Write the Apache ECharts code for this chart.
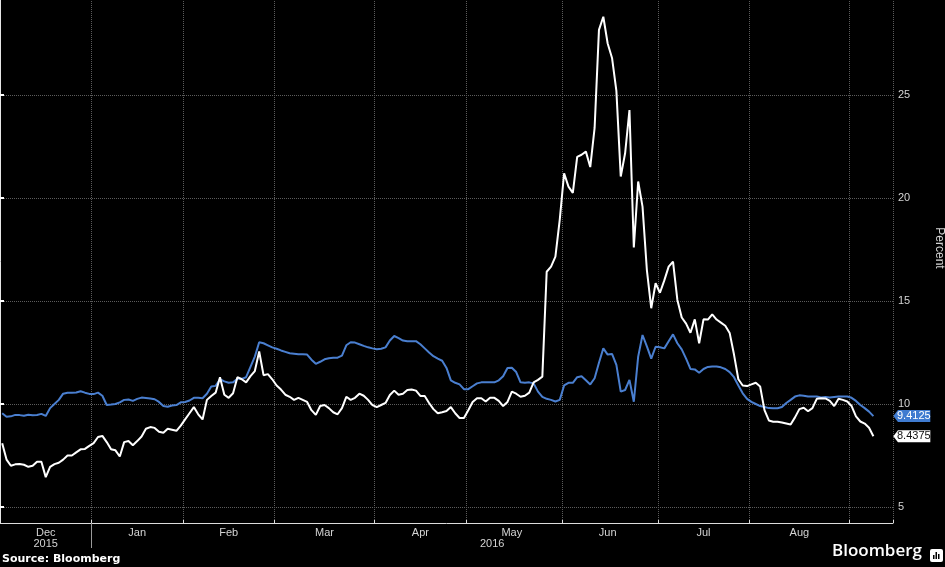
<!DOCTYPE html>
<html>
<head>
<meta charset="utf-8">
<script src="https://cdn.jsdelivr.net/npm/echarts@6/dist/echarts.min.js"></script>
<style>
html, body { margin: 0; padding: 0; background: #000; }
#chart { width: 945px; height: 567px; }
</style>
</head>
<body>
<div id="chart"></div>
<script>
// trading days shown on the axis (weekdays only)
var firstDay = '2015-12-03';
var lastDay = '2016-09-14';
var monthNames = ['Jan', 'Feb', 'Mar', 'Apr', 'May', 'Jun', 'Jul', 'Aug', 'Sep', 'Oct', 'Nov', 'Dec'];
var yTicks = [5, 10, 15, 20, 25];

// blue series, one value per trading day from Dec 3 2015
var blueValues = [
    9.55, 9.38, 9.4, 9.47, 9.46, 9.43, 9.48, 9.45, 9.47, 9.52,
    9.42, 9.8, 10.0, 10.2, 10.5, 10.55, 10.55, 10.56, 10.62, 10.55,
    10.49, 10.48, 10.55, 10.4, 9.95, 9.97, 10.0, 10.08, 10.2, 10.22,
    10.15, 10.25, 10.31, 10.29, 10.27, 10.23, 10.1, 9.9, 9.87, 9.93,
    9.95, 10.08, 10.1, 10.17, 10.3, 10.3, 10.28, 10.5, 10.85, 10.88,
    11.2, 11.1, 11.03, 11.05, 11.22, 11.22, 11.3, 11.8, 12.3, 13.0,
    12.95, 12.85, 12.75, 12.68, 12.6, 12.53, 12.46, 12.44, 12.42, 12.41,
    12.4, 12.15, 11.95, 12.05, 12.17, 12.22, 12.24, 12.25, 12.35, 12.85,
    13.0, 12.98, 12.9, 12.82, 12.75, 12.7, 12.66, 12.68, 12.75, 13.08,
    13.3, 13.2, 13.08, 13.05, 13.05, 13.05, 12.9, 12.7, 12.5, 12.32,
    12.2, 12.1, 11.75, 11.15, 11.03, 10.95, 10.72, 10.72, 10.86, 11.0,
    11.05, 11.05, 11.05, 11.05, 11.15, 11.35, 11.75, 11.76, 11.55, 11.05,
    11.03, 11.05, 11.0, 10.6, 10.35, 10.25, 10.2, 10.12, 10.2, 10.9,
    11.03, 11.03, 11.3, 11.35, 11.15, 10.95, 11.25, 12.0, 12.7, 12.4,
    12.43, 11.9, 10.6, 10.68, 11.17, 10.11, 12.3, 13.35, 12.8, 12.2,
    12.78, 12.75, 12.7, 13.05, 13.38, 12.95, 12.65, 12.2, 11.7, 11.68,
    11.52, 11.7, 11.8, 11.82, 11.82, 11.78, 11.7, 11.55, 11.3, 10.9,
    10.52, 10.25, 10.1, 10.0, 9.9, 9.85, 9.8, 9.79, 9.79, 9.85,
    10.05, 10.2, 10.36, 10.42, 10.4, 10.36, 10.36, 10.36, 10.32, 10.34,
    10.32, 10.34, 10.36, 10.36, 10.36, 10.3, 10.15, 9.95, 9.8, 9.63,
    9.4125
];

// white series
var whiteValues = [
    8.1, 7.3, 7.0, 7.07, 7.09, 7.05, 6.95, 7.0, 7.2, 7.2,
    6.45, 6.95, 7.08, 7.15, 7.3, 7.5, 7.5, 7.65, 7.8, 7.82,
    7.97, 8.1, 8.4, 8.45, 8.15, 7.8, 7.75, 7.45, 8.15, 8.2,
    8.0, 8.2, 8.42, 8.8, 8.88, 8.84, 8.65, 8.6, 8.8, 8.75,
    8.7, 8.95, 9.25, 9.55, 9.85, 9.5, 9.25, 10.2, 10.39, 10.55,
    11.3, 10.45, 10.3, 10.52, 11.3, 11.2, 11.05, 11.35, 11.6, 12.55,
    11.4, 11.45, 11.2, 10.9, 10.7, 10.45, 10.35, 10.2, 10.3, 10.2,
    10.1, 9.7, 9.47, 9.9, 9.95, 9.8, 9.6, 9.5, 9.8, 10.35,
    10.2, 10.3, 10.5, 10.4, 10.2, 9.95, 9.85, 9.95, 10.05, 10.44,
    10.65, 10.45, 10.5, 10.68, 10.7, 10.65, 10.39, 10.39, 10.05, 9.75,
    9.55, 9.6, 9.66, 9.85, 9.55, 9.32, 9.32, 9.7, 10.1, 10.28,
    10.28, 10.12, 10.3, 10.3, 10.15, 9.9, 10.1, 10.6, 10.5, 10.35,
    10.4, 10.55, 11.05, 11.17, 11.33, 16.42, 16.67, 17.15, 18.95, 21.2,
    20.55, 20.25, 22.0, 22.1, 22.25, 21.5, 23.4, 28.16, 28.8, 27.5,
    26.8, 25.2, 21.04, 22.17, 24.27, 17.6, 20.8, 19.58, 16.5, 14.65,
    15.86, 15.4, 16.0, 16.67, 16.91, 15.05, 14.2, 13.9, 13.46, 14.11,
    12.95, 14.11, 14.1, 14.35, 14.1, 13.95, 13.8, 13.45, 12.4, 11.2,
    10.9, 10.87, 10.95, 11.03, 10.85, 9.7, 9.2, 9.14, 9.14, 9.1,
    9.05, 9.0, 9.35, 9.75, 9.82, 9.65, 9.8, 10.25, 10.28, 10.27,
    10.15, 9.9, 10.25, 10.2, 10.12, 9.9, 9.4, 9.15, 9.05, 8.85,
    8.4375
];

var blueLast = '9.4125';
var whiteLast = '8.4375';

function weekdays(from, to) {
    var out = [];
    var d = new Date(from + 'T00:00:00Z');
    var end = new Date(to + 'T00:00:00Z');
    while (d <= end) {
        var wd = d.getUTCDay();
        if (wd !== 0 && wd !== 6) out.push(d.toISOString().slice(0, 10));
        d.setUTCDate(d.getUTCDate() + 1);
    }
    return out;
}

var categories = weekdays(firstDay, lastDay);

// month boundaries and label positions (middle of each month's span)
var monthStart = {}, monthMid = {};
var spanFirst = 0;
for (var i = 1; i <= categories.length; i++) {
    if (i === categories.length || categories[i].slice(5, 7) !== categories[i - 1].slice(5, 7)) {
        if (i < categories.length) monthStart[i] = true;
        // skip the short September tail, it has no label
        if (categories[spanFirst].slice(5, 7) !== '09') monthMid[Math.floor((spanFirst + i - 1) / 2)] = true;
        spanFirst = i;
    }
}

// year spans in index units, for the second (value) x axis
var yearBreak = categories.findIndex(function (c) { return c.slice(0, 4) === '2016'; });
var yearLabelPos = [yearBreak / 2, (yearBreak + categories.length) / 2];
var yearNames = ['2015', '2016'];

var chart = echarts.init(document.getElementById('chart'));

var labelColor = '#d4d4d4';
var gridColor = '#5c5c5c';

chart.setOption({
    backgroundColor: '#000000',
    animation: false,
    textStyle: { fontFamily: 'Liberation Sans, Arial, sans-serif' },
    grid: {
        left: 0,
        right: 52,
        top: -1,
        bottom: 44,
        outerBoundsMode: 'none'
    },
    xAxis: [{
        type: 'category',
        data: categories,
        boundaryGap: true,
        axisLine: { lineStyle: { color: '#dcdcdc', width: 1 } },
        axisTick: {
            show: true,
            inside: true,
            length: 3,
            interval: function (idx) { return !!monthStart[idx]; },
            lineStyle: { color: '#dcdcdc' }
        },
        axisLabel: {
            interval: function (idx) { return !!monthMid[idx]; },
            formatter: function (v) { return monthNames[parseInt(v.slice(5, 7), 10) - 1]; },
            color: labelColor,
            fontSize: 11,
            margin: 4
        },
        splitLine: {
            show: true,
            interval: function (idx) { return !!monthStart[idx]; },
            lineStyle: { color: gridColor, type: 'dotted', width: 1 }
        }
    }, {
        type: 'value',
        position: 'bottom',
        min: 0,
        max: categories.length,
        axisLine: { show: false },
        axisTick: {
            show: true,
            length: 25,
            customValues: [yearBreak],
            lineStyle: { color: '#9a9a9a' }
        },
        axisLabel: {
            customValues: yearLabelPos,
            formatter: function (v) { return v < yearBreak ? yearNames[0] : yearNames[1]; },
            color: labelColor,
            fontSize: 11,
            margin: 15
        },
        splitLine: { show: false }
    }],
    yAxis: {
        type: 'value',
        position: 'right',
        min: 4.223,
        max: 29.66,
        splitNumber: 5,
        name: 'Percent',
        nameLocation: 'middle',
        nameRotate: -90,
        nameGap: 40,
        nameTextStyle: { color: labelColor, fontSize: 12, padding: [0, 26, 0, 0] },
        axisLine: { show: true, lineStyle: { color: '#e6e6e6', width: 1 } },
        axisTick: {
            show: true,
            length: 4,
            customValues: yTicks,
            lineStyle: { color: '#ffffff', width: 2 }
        },
        axisLabel: {
            customValues: yTicks,
            color: labelColor,
            fontSize: 11,
            margin: 5
        },
        splitLine: {
            show: true,
            lineStyle: { color: gridColor, type: 'dotted', width: 1 }
        }
    },
    series: [{
        type: 'line',
        data: blueValues,
        symbol: 'none',
        lineStyle: { color: '#4a7fd0', width: 2 },
        z: 2,
        markPoint: {
            symbol: 'path://M0,5 L5,0 L40,0 L40,10 L5,10 Z',
            symbolSize: [37, 12],
            symbolOffset: [21, 0],
            itemStyle: { color: '#3f7bd0' },
            label: { show: true, color: '#ffffff', fontSize: 11, offset: [2, 0], formatter: function () { return blueLast; } },
            data: [{ coord: [categories[categories.length - 1], parseFloat(blueLast)] }]
        }
    }, {
        type: 'line',
        data: whiteValues,
        symbol: 'none',
        lineStyle: { color: '#ffffff', width: 2 },
        z: 3,
        markPoint: {
            symbol: 'path://M0,5 L5,0 L40,0 L40,10 L5,10 Z',
            symbolSize: [37, 12],
            symbolOffset: [21, 0],
            itemStyle: { color: '#ffffff' },
            label: { show: true, color: '#111111', fontSize: 11, offset: [2, 0], formatter: function () { return whiteLast; } },
            data: [{ coord: [categories[categories.length - 1], parseFloat(whiteLast)] }]
        }
    }],
    graphic: [{
        type: 'text',
        left: 2,
        top: 554,
        style: { text: 'Source: Bloomberg', fill: '#ffffff', font: 'bold 11px "DejaVu Sans", sans-serif' }
    }, {
        type: 'text',
        right: 23,
        top: 543,
        style: { text: 'Bloomberg', fill: '#ffffff', font: '600 17px "Open Sans", sans-serif' }
    }, {
        type: 'group',
        right: 2,
        top: 549,
        children: [{
            type: 'rect',
            shape: { x: 0, y: 0, width: 13, height: 13, r: 2 },
            style: { fill: '#ffffff' }
        }, {
            type: 'rect',
            shape: { x: 3, y: 6, width: 1.5, height: 4 },
            style: { fill: '#000000' }
        }, {
            type: 'rect',
            shape: { x: 5.5, y: 3, width: 1.5, height: 7 },
            style: { fill: '#000000' }
        }, {
            type: 'rect',
            shape: { x: 8, y: 5, width: 1.5, height: 5 },
            style: { fill: '#000000' }
        }]
    }]
});
</script>
</body>
</html>
